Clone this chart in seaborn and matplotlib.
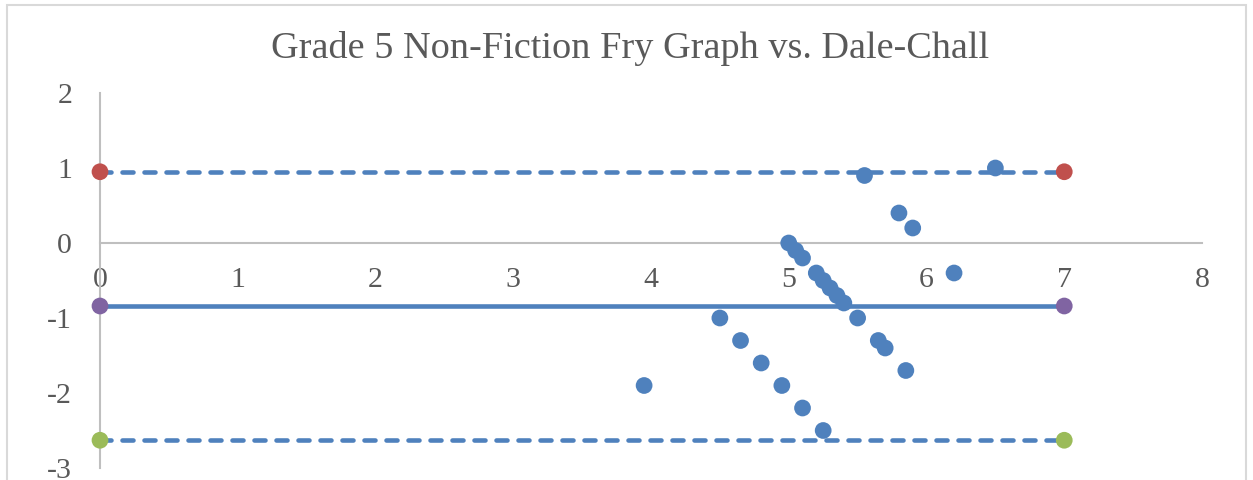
import matplotlib
matplotlib.use('Agg')
import matplotlib.pyplot as plt
import seaborn as sns
from matplotlib.patches import Rectangle

# Данные
x_vals = [3.95, 4.50, 4.65, 4.80, 4.95, 5.10, 5.25, 5.00, 5.05, 5.10, 5.20, 5.25,
          5.30, 5.35, 5.40, 5.50, 5.55, 5.65, 5.70, 5.80, 5.90, 5.85, 6.20, 6.50]
y_vals = [-1.9, -1.0, -1.3, -1.6, -1.9, -2.2, -2.5, 0.0, -0.1, -0.2, -0.4, -0.5,
          -0.6, -0.7, -0.8, -1.0, 0.9, -1.3, -1.4, 0.4, 0.2, -1.7, -0.4, 1.0]
line_x = [0, 7]
upper_y = [0.95, 0.95]
mean_y = [-0.84, -0.84]
lower_y = [-2.63, -2.63]
x_ticks = [0, 1, 2, 3, 4, 5, 6, 7, 8]
y_ticks = [-3, -2, -1, 0, 1, 2]

blue = '#4F81BD'
gray_txt = '#595959'
axis_col = '#BFBFBF'

sns.set_style('white')
plt.rcParams['font.family'] = ['Liberation Serif', 'DejaVu Serif']

fig = plt.figure(figsize=(12.53, 4.8), dpi=100)
ax = fig.add_axes([100 / 1253, 12 / 480, 1102 / 1253, 375 / 480])

# рамка вокруг диаграммы
fig.patches.append(Rectangle((7 / 1253, -0.05), 1239 / 1253, 1 - 5 / 480 + 0.05,
                             transform=fig.transFigure, fill=False,
                             edgecolor='#D9D9D9', linewidth=1.5))

lw = 3.3
sns.lineplot(x=line_x, y=upper_y, ax=ax, color=blue, linewidth=lw, zorder=2)
sns.lineplot(x=line_x, y=lower_y, ax=ax, color=blue, linewidth=lw, zorder=2)
for ln in ax.lines:
    ln.set_linestyle((0, (2.4, 2.4)))
    ln.set_dash_capstyle('round')
sns.lineplot(x=line_x, y=mean_y, ax=ax, color=blue, linewidth=lw, zorder=2)

sns.scatterplot(x=x_vals, y=y_vals, ax=ax, color=blue, s=145, edgecolor='none', zorder=3)
sns.scatterplot(x=line_x, y=upper_y, ax=ax, color='#C0504D', s=145, edgecolor='none', zorder=4)
sns.scatterplot(x=line_x, y=mean_y, ax=ax, color='#8064A2', s=145, edgecolor='none', zorder=4)
sns.scatterplot(x=line_x, y=lower_y, ax=ax, color='#9BBB59', s=145, edgecolor='none', zorder=4)

ax.set_xlim(0, 8)
ax.set_ylim(-3, 2)
ax.set_xticks(x_ticks)
ax.set_yticks(y_ticks)
ax.set_yticklabels([str(v) for v in y_ticks])

ax.spines['left'].set_position(('data', 0))
ax.spines['bottom'].set_position(('data', 0))
ax.spines['right'].set_visible(False)
ax.spines['top'].set_visible(False)
for sp in ['left', 'bottom']:
    ax.spines[sp].set_color(axis_col)
    ax.spines[sp].set_linewidth(1.5)
    ax.spines[sp].set_zorder(1)

ax.tick_params(axis='x', length=0, pad=17, labelsize=21.5, labelcolor=gray_txt)
ax.tick_params(axis='y', length=0, pad=20, labelsize=21.5, labelcolor=gray_txt)
ax.patch.set_alpha(0)
for c in ax.collections:
    c.set_clip_on(False)

fig.text(0.503, 1 - 49 / 480, 'Grade 5 Non-Fiction Fry Graph vs. Dale-Chall',
         ha='center', va='center', fontsize=27.5, color=gray_txt)

plt.savefig('out.png', dpi=100)
